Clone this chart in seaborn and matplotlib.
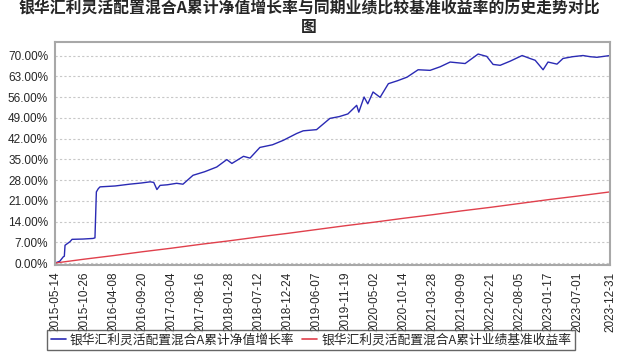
"""Cumulative NAV growth vs benchmark return, history chart."""

import matplotlib

matplotlib.use("Agg")

import matplotlib.pyplot as plt
import matplotlib.ticker as mticker
import pandas as pd
import seaborn as sns

FUND_NAME = "银华汇利灵活配置混合A累计净值增长率"
BENCH_NAME = "银华汇利灵活配置混合A累计业绩基准收益率"
TITLE = "银华汇利灵活配置混合A累计净值增长率与同期业绩比较基准收益率的历史走势对比\n图"

fund_dates = [
    "2015-05-14", "2015-06-10", "2015-06-30", "2015-07-06", "2015-07-10",
    "2015-08-07", "2015-08-19", "2015-10-20", "2015-12-16", "2015-12-27",
    "2016-01-04", "2016-01-15", "2016-01-25", "2016-04-20", "2016-07-10",
    "2016-09-15", "2016-11-05", "2016-11-25", "2016-12-13", "2016-12-31",
    "2017-02-10", "2017-04-04", "2017-05-10", "2017-07-06", "2017-09-10",
    "2017-11-18", "2018-01-14", "2018-02-12", "2018-04-19", "2018-05-26",
    "2018-07-21", "2018-10-01", "2018-12-01", "2019-02-15", "2019-03-24",
    "2019-06-08", "2019-08-23", "2019-10-15", "2019-12-03", "2020-01-22",
    "2020-02-03", "2020-03-04", "2020-03-25", "2020-04-24", "2020-06-03",
    "2020-07-20", "2020-09-10", "2020-11-03", "2021-01-05", "2021-03-14",
    "2021-05-10", "2021-07-06", "2021-09-29", "2021-12-12", "2022-01-30",
    "2022-03-07", "2022-04-16", "2022-06-12", "2022-08-19", "2022-10-03",
    "2022-11-01", "2022-12-16", "2023-01-13", "2023-03-05", "2023-04-08",
    "2023-06-01", "2023-07-31", "2023-09-10", "2023-10-18", "2023-12-31",
]
fund_values = [
    0.0, 0.6, 2.1, 2.3, 6.0,
    7.2, 8.0, 8.1, 8.3, 8.5,
    24.0, 25.1, 25.7, 26.0, 26.6,
    27.0, 27.4, 27.2, 24.8, 26.2,
    26.4, 26.9, 26.6, 29.6, 30.8,
    32.4, 34.9, 33.6, 36.0, 35.4,
    39.0, 39.9, 41.4, 43.7, 44.6,
    45.0, 48.8, 49.4, 50.3, 53.2,
    50.9, 56.0, 53.7, 57.7, 55.9,
    60.5, 61.5, 62.7, 65.2, 65.0,
    66.2, 67.8, 67.3, 70.5, 69.7,
    67.0, 66.7, 68.1, 70.0, 69.0,
    68.4, 65.2, 67.8, 67.1, 69.0,
    69.6, 70.0, 69.6, 69.4, 70.0,
]

tick_dates = [
    "2015-05-14", "2015-10-26", "2016-04-08", "2016-09-20", "2017-03-04",
    "2017-08-16", "2018-01-28", "2018-07-12", "2018-12-24", "2019-06-07",
    "2019-11-19", "2020-05-02", "2020-10-14", "2021-03-28", "2021-09-09",
    "2022-02-21", "2022-08-05", "2023-01-17", "2023-07-01", "2023-12-31",
]
bench_values = [
    0.0, 1.3, 2.5, 3.8, 5.0,
    6.3, 7.5, 8.8, 10.0, 11.3,
    12.6, 13.8, 15.1, 16.3, 17.6,
    18.8, 20.1, 21.4, 22.6, 24.0,
]

y_ticks = [0, 7, 14, 21, 28, 35, 42, 49, 56, 63, 70]

BLUE = "#2a2ab4"
RED = "#e0404c"

sns.set_theme(style="white")
plt.rcParams["font.family"] = ["Liberation Sans", "Noto Sans CJK SC", "DejaVu Sans"]

df = pd.concat(
    [
        pd.DataFrame({"date": pd.to_datetime(fund_dates), "value": fund_values, "series": FUND_NAME}),
        pd.DataFrame({"date": pd.to_datetime(tick_dates), "value": bench_values, "series": BENCH_NAME}),
    ],
    ignore_index=True,
)

fig = plt.figure(figsize=(6.18, 3.55), dpi=100)
ax = fig.add_axes([0.089, 0.254, 0.898, 0.628])

sns.lineplot(
    data=df, x="date", y="value", hue="series",
    palette={FUND_NAME: BLUE, BENCH_NAME: RED},
    linewidth=1.0, ax=ax, legend=False,
)

ax.set_xlim(pd.Timestamp(tick_dates[0]), pd.Timestamp(tick_dates[-1]))
ax.set_ylim(-0.6, 74.6)
ax.set_xticks(pd.to_datetime(tick_dates))
ax.set_xticklabels(tick_dates, rotation=90, fontsize=8.5)
ax.set_yticks(y_ticks)
ax.yaxis.set_major_formatter(mticker.FuncFormatter(lambda v, _: f"{v:.2f}%"))
ax.tick_params(axis="y", labelsize=8.5, length=3, color="#a0a0a0", pad=2)
ax.tick_params(axis="x", length=3, color="#a0a0a0", pad=2)
ax.set_xlabel("")
ax.set_ylabel("")

ax.grid(axis="y", linestyle=(0, (2, 2)), color="#c8c8c8", linewidth=0.8)
ax.grid(axis="x", visible=False)
for spine in ax.spines.values():
    spine.set_color("#a8a8a8")
    spine.set_linewidth(1.5)

fig.suptitle(TITLE, x=0.5, y=0.998, fontsize=11.4, fontweight="bold",
             family=["Noto Sans CJK SC", "DejaVu Sans"], linespacing=1.2)

handles = [
    plt.Line2D([], [], color=BLUE, linewidth=1.2),
    plt.Line2D([], [], color=RED, linewidth=1.2),
]
fig.legend(
    handles, [FUND_NAME, BENCH_NAME], loc="center", bbox_to_anchor=(0.503, 0.042),
    ncol=2, frameon=True, fancybox=False, edgecolor="#404040",
    handlelength=1.2, handletextpad=0.3, columnspacing=0.6, borderpad=0.3,
    prop={"family": ["Noto Sans CJK SC", "DejaVu Sans"], "size": 9.2},
)

fig.savefig("out.png", dpi=100)
